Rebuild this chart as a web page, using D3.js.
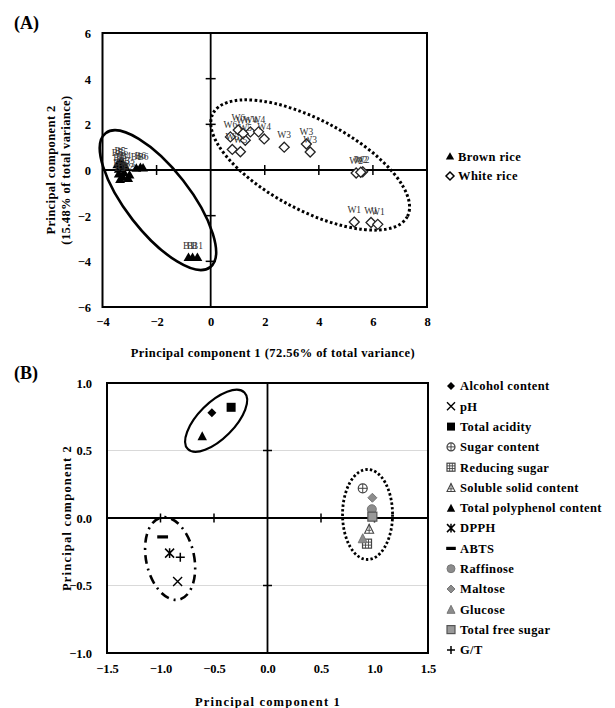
<!DOCTYPE html>
<html>
<head>
<meta charset="utf-8">
<script src="https://cdn.jsdelivr.net/npm/d3@7"></script>
<style>
  html, body { margin: 0; padding: 0; background: #fff; }
  svg { display: block; }
  text { font-family: "Liberation Serif", "Times New Roman", serif; }
</style>
</head>
<body>
<svg id="chart" width="615" height="708"></svg>
<script>
// ---------- Panel A: PCA scores ----------
const brownX = [-0.82, -0.67, -0.49, -3.35, -3.25, -3.05, -3.40, -3.20, -3.00, -3.30, -3.15, -3.40, -3.35, -3.25, -3.45, -2.75, -2.60, -2.50];
const brownY = [-3.86, -3.86, -3.86, -0.45, -0.35, -0.40, -0.20, -0.15, -0.25, 0.05, 0.10, 0.00, 0.30, 0.25, 0.20, 0.05, 0.08, 0.06];
const brownLabels = ["B1", "B1", "B1", "B2", "B2", "B2", "B3", "B3", "B3", "B4", "B4", "B4", "B5", "B5", "B5", "B6", "B6", "B6"];

const whiteX = [5.31, 5.93, 6.18, 5.38, 5.62, 5.55, 2.72, 3.54, 3.68, 1.47, 1.77, 1.98, 0.80, 1.10, 1.28, 0.73, 1.02, 1.20];
const whiteY = [-2.28, -2.30, -2.38, -0.13, -0.08, -0.10, 1.00, 1.14, 0.79, 1.67, 1.67, 1.36, 0.90, 0.80, 1.30, 1.45, 1.75, 1.60];
const whiteLabels = ["W1", "W1", "W1", "W2", "W2", "W2", "W3", "W3", "W3", "W4", "W4", "W4", "W5", "W5", "W5", "W6", "W6", "W6"];

const groupNamesA = ["Brown rice", "White rice"];
const xTicksA = [-4, -2, 0, 2, 4, 6, 8];
const yTicksA = [-6, -4, -2, 0, 2, 4, 6];

// group outlines: centre in score units
const outlineCentersAX = [-1.95, 3.68];
const outlineCentersAY = [-1.32, 0.22];

// ---------- Panel B: PCA loadings ----------
const varNames = ["Alcohol content", "pH", "Total acidity", "Sugar content", "Reducing sugar",
  "Soluble solid content", "Total polyphenol content", "DPPH", "ABTS", "Raffinose",
  "Maltose", "Glucose", "Total free sugar", "G/T"];
const varX = [-0.52, -0.84, -0.34, 0.89, 0.93, 0.95, -0.61, -0.915, -0.98, 0.975, 0.98, 0.89, 0.98, -0.815];
const varY = [0.78, -0.47, 0.82, 0.22, -0.19, -0.08, 0.61, -0.26, -0.14, 0.065, 0.15, -0.15, 0.01, -0.29];
const xTicksB = [-1.5, -1.0, -0.5, 0.0, 0.5, 1.0, 1.5];
const yTicksB = [-1.0, -0.5, 0.0, 0.5, 1.0];

const outlineCentersBX = [-0.48, 0.935, -0.91];
const outlineCentersBY = [0.72, 0.026, -0.30];

// ---------- drawing ----------
const svg = d3.select("#chart");
const fmt1 = d3.format(".1f");

function frame(g, x, y) {
  const [x0, x1] = x.range(), [y0, y1] = y.range();
  g.append("rect")
    .attr("x", x0).attr("y", y1).attr("width", x1 - x0).attr("height", y0 - y1)
    .attr("fill", "none").attr("stroke", "#000").attr("stroke-width", 2);
}

// zero lines with small crossing tick marks
function zeroAxes(g, x, y, xt, yt, tick) {
  const [x0, x1] = x.range(), [y0, y1] = y.range();
  g.append("line").attr("x1", x0).attr("x2", x1).attr("y1", y(0)).attr("y2", y(0))
    .attr("stroke", "#000").attr("stroke-width", 1.8);
  g.append("line").attr("x1", x(0)).attr("x2", x(0)).attr("y1", y0).attr("y2", y1)
    .attr("stroke", "#000").attr("stroke-width", 1.8);
  g.selectAll(null).data(xt.filter(v => v !== 0 && v !== x.domain()[0] && v !== x.domain()[1]))
    .join("line")
    .attr("x1", d => x(d)).attr("x2", d => x(d))
    .attr("y1", y(0) - tick).attr("y2", y(0) + tick)
    .attr("stroke", "#000").attr("stroke-width", 1.5);
  g.selectAll(null).data(yt.filter(v => v !== 0 && v !== y.domain()[0] && v !== y.domain()[1]))
    .join("line")
    .attr("y1", d => y(d)).attr("y2", d => y(d))
    .attr("x1", x(0) - tick).attr("x2", x(0) + tick)
    .attr("stroke", "#000").attr("stroke-width", 1.5);
}

function tickLabels(g, x, y, xt, yt, f, xLabY, yLabX) {
  const ax = g.append("g").attr("transform", `translate(0,${xLabY})`)
    .call(d3.axisBottom(x).tickValues(xt).tickFormat(f).tickSize(0).tickPadding(0));
  const ay = g.append("g").attr("transform", `translate(${yLabX},0)`)
    .call(d3.axisLeft(y).tickValues(yt).tickFormat(f).tickSize(0).tickPadding(0));
  [ax, ay].forEach(a => {
    a.select(".domain").remove();
    a.selectAll("text").attr("font-family", "Liberation Serif, serif")
      .attr("font-size", 12.5).attr("font-weight", "bold").attr("fill", "#000");
  });
  ay.selectAll("text").attr("dy", "0.35em");
  ax.selectAll("text").attr("dy", "0.71em");
}

function outline(g, cx, cy, rx, ry, angle, dash, width) {
  g.append("ellipse")
    .attr("cx", cx).attr("cy", cy).attr("rx", rx).attr("ry", ry)
    .attr("transform", `rotate(${angle},${cx},${cy})`)
    .attr("fill", "none").attr("stroke", "#000").attr("stroke-width", width)
    .attr("stroke-dasharray", dash);
}

// ----- Panel A -----
const xA = d3.scaleLinear().domain([-4, 8]).range([102.5, 427]);
const yA = d3.scaleLinear().domain([-6, 6]).range([307, 33]);
const gA = svg.append("g");

frame(gA, xA, yA);
zeroAxes(gA, xA, yA, xTicksA, yTicksA, 5);
tickLabels(gA, xA, yA, xTicksA, yTicksA, d3.format("d"), 317, 91);

outline(gA, xA(outlineCentersAX[0]), yA(outlineCentersAY[0]), 85, 32, 52, null, 2.6);
outline(gA, xA(outlineCentersAX[1]), yA(outlineCentersAY[1]), 110, 45, 28, "2.6 2.4", 3);

const triA = d3.symbol().type(d3.symbolTriangle).size(42);
const diaA = "M0,-5L5,0L0,5L-5,0Z";

gA.selectAll(".wpt").data(d3.range(whiteX.length)).join("path")
  .attr("class", "wpt")
  .attr("transform", i => `translate(${xA(whiteX[i])},${yA(whiteY[i])})`)
  .attr("d", diaA).attr("fill", "#fff").attr("stroke", "#222").attr("stroke-width", 1.3);
gA.selectAll(".bpt").data(d3.range(brownX.length)).join("path")
  .attr("class", "bpt")
  .attr("transform", i => `translate(${xA(brownX[i])},${yA(brownY[i])})`)
  .attr("d", triA).attr("fill", "#000");

gA.selectAll(".wlab").data(d3.range(whiteX.length)).join("text")
  .attr("class", "wlab")
  .attr("x", i => xA(whiteX[i])).attr("y", i => yA(whiteY[i]) - 9)
  .attr("text-anchor", "middle").attr("font-size", 9.5).attr("fill", "#333")
  .text(i => whiteLabels[i]);
gA.selectAll(".blab").data(d3.range(brownX.length)).join("text")
  .attr("class", "blab")
  .attr("x", i => xA(brownX[i])).attr("y", i => yA(brownY[i]) - 9)
  .attr("text-anchor", "middle").attr("font-size", 9.5).attr("fill", "#333")
  .text(i => brownLabels[i]);

// legend A
const legA = svg.append("g");
const legAY = [157, 176];
legA.append("path").attr("transform", `translate(450,${legAY[0]})`)
  .attr("d", d3.symbol().type(d3.symbolTriangle).size(30)).attr("fill", "#000");
legA.append("path").attr("transform", `translate(450,${legAY[1]})`)
  .attr("d", "M0,-4L4,0L0,4L-4,0Z").attr("fill", "#fff").attr("stroke", "#000").attr("stroke-width", 1.5);
legA.selectAll("text").data(groupNamesA).join("text")
  .attr("x", 458).attr("y", (d, i) => legAY[i]).attr("dy", "0.35em")
  .attr("font-size", 12.5).attr("font-weight", "bold").attr("letter-spacing", 0.4)
  .text(d => d);

// titles A
svg.append("text").attr("x", 14).attr("y", 29).attr("font-size", 18).attr("font-weight", "bold").text("(A)");
svg.append("text").attr("x", 273).attr("y", 357).attr("text-anchor", "middle")
  .attr("font-size", 12.5).attr("font-weight", "bold").attr("letter-spacing", 0.45)
  .text("Principal  component  1 (72.56%  of total variance)");
const ytA = svg.append("g").attr("transform", "translate(55,170) rotate(-90)");
ytA.append("text").attr("x", 0).attr("y", 0).attr("text-anchor", "middle")
  .attr("font-size", 12.5).attr("font-weight", "bold").attr("letter-spacing", 0.4)
  .text("Principal  component  2");
ytA.append("text").attr("x", 0).attr("y", 15).attr("text-anchor", "middle")
  .attr("font-size", 12.5).attr("font-weight", "bold").attr("letter-spacing", 0.4)
  .text("(15.48% of total variance)");

// ----- Panel B -----
const xB = d3.scaleLinear().domain([-1.5, 1.5]).range([107, 428]);
const yB = d3.scaleLinear().domain([-1, 1]).range([653, 383]);
const gB = svg.append("g");

gB.selectAll(".grid").data([-0.5, 0.5]).join("line")
  .attr("class", "grid")
  .attr("x1", xB.range()[0]).attr("x2", xB.range()[1])
  .attr("y1", d => yB(d)).attr("y2", d => yB(d))
  .attr("stroke", "#d9d9d9").attr("stroke-width", 1);
frame(gB, xB, yB);
zeroAxes(gB, xB, yB, xTicksB, yTicksB, 4.5);
tickLabels(gB, xB, yB, xTicksB, yTicksB, fmt1, 664, 92);

outline(gB, xB(outlineCentersBX[0]), yB(outlineCentersBY[0]), 40, 18, -45, null, 2.2);
outline(gB, xB(outlineCentersBX[1]), yB(outlineCentersBY[1]), 25, 45, 0, "2.4 2.2", 2.8);
outline(gB, xB(outlineCentersBX[2]), yB(outlineCentersBY[2]), 24, 42, -12, "9 5 2 5", 2.6);

// one marker style per variable
function marker(g, name, s) {
  const k = s;                       // half size
  const dark = "#444", gray = "#8c8c8c";
  switch (name) {
    case "Alcohol content":
      g.append("path").attr("d", `M0,${-k}L${k},0L0,${k}L${-k},0Z`).attr("fill", "#000"); break;
    case "pH":
      g.append("path").attr("d", `M${-k},${-k}L${k},${k}M${k},${-k}L${-k},${k}`)
        .attr("stroke", "#000").attr("stroke-width", 1.4); break;
    case "Total acidity":
      g.append("rect").attr("x", -k).attr("y", -k).attr("width", 2 * k).attr("height", 2 * k).attr("fill", "#000"); break;
    case "Sugar content":
      g.append("circle").attr("r", k).attr("fill", "#fff").attr("stroke", dark).attr("stroke-width", 1.2);
      g.append("path").attr("d", `M${-k},0L${k},0M0,${-k}L0,${k}`).attr("stroke", dark).attr("stroke-width", 1); break;
    case "Reducing sugar":
      g.append("rect").attr("x", -k).attr("y", -k).attr("width", 2 * k).attr("height", 2 * k)
        .attr("fill", "#fff").attr("stroke", dark).attr("stroke-width", 1.2);
      g.append("path").attr("d", `M${-k},${-k / 3}L${k},${-k / 3}M${-k},${k / 3}L${k},${k / 3}M${-k / 3},${-k}L${-k / 3},${k}M${k / 3},${-k}L${k / 3},${k}`)
        .attr("stroke", dark).attr("stroke-width", 0.9); break;
    case "Soluble solid content":
      g.append("path").attr("d", `M0,${-k}L${k},${k}L${-k},${k}Z`)
        .attr("fill", "#fff").attr("stroke", dark).attr("stroke-width", 1.1);
      g.append("path").attr("d", `M${-k / 2},${k / 3}L${k / 2},${k / 3}M0,${-k}L0,${k}`)
        .attr("stroke", dark).attr("stroke-width", 0.9); break;
    case "Total polyphenol content":
      g.append("path").attr("d", `M0,${-k}L${k * 1.05},${k}L${-k * 1.05},${k}Z`).attr("fill", "#000"); break;
    case "DPPH":
      g.append("path").attr("d", `M${-k},${-k}L${k},${k}M${k},${-k}L${-k},${k}M0,${-k * 1.1}L0,${k * 1.1}`)
        .attr("stroke", "#000").attr("stroke-width", 1.5); break;
    case "ABTS":
      g.append("rect").attr("x", -k * 1.2).attr("y", -1.6).attr("width", 2.4 * k).attr("height", 3.2).attr("fill", "#000"); break;
    case "Raffinose":
      g.append("circle").attr("r", k).attr("fill", gray).attr("stroke", "#777").attr("stroke-width", 1); break;
    case "Maltose":
      g.append("path").attr("d", `M0,${-k}L${k},0L0,${k}L${-k},0Z`).attr("fill", gray).attr("stroke", "#777"); break;
    case "Glucose":
      g.append("path").attr("d", `M0,${-k}L${k},${k}L${-k},${k}Z`).attr("fill", gray).attr("stroke", "#777"); break;
    case "Total free sugar":
      g.append("rect").attr("x", -k).attr("y", -k).attr("width", 2 * k).attr("height", 2 * k)
        .attr("fill", "#999").attr("stroke", "#555").attr("stroke-width", 1.2); break;
    case "G/T":
      g.append("path").attr("d", `M${-k},0L${k},0M0,${-k}L0,${k}`)
        .attr("stroke", "#000").attr("stroke-width", 1.5); break;
  }
}

d3.range(varNames.length).forEach(i => {
  const g = gB.append("g").attr("transform", `translate(${xB(varX[i])},${yB(varY[i])})`);
  marker(g, varNames[i], 4.5);
});

// legend B
const legB = svg.append("g");
varNames.forEach((name, i) => {
  const y = 386 + i * 20.3;
  const g = legB.append("g").attr("transform", `translate(451,${y})`);
  marker(g, name, 4);
  legB.append("text").attr("x", 460).attr("y", y).attr("dy", "0.35em")
    .attr("font-size", 12.5).attr("font-weight", "bold").attr("letter-spacing", 0.4)
    .text(name);
});

// titles B
svg.append("text").attr("x", 14).attr("y", 379).attr("font-size", 18).attr("font-weight", "bold").text("(B)");
svg.append("text").attr("x", 268).attr("y", 706).attr("text-anchor", "middle")
  .attr("font-size", 12.5).attr("font-weight", "bold").attr("letter-spacing", 1.2)
  .text("Principal component 1");
svg.append("text").attr("transform", "translate(71,518) rotate(-90)").attr("text-anchor", "middle")
  .attr("font-size", 12.5).attr("font-weight", "bold").attr("letter-spacing", 1.2)
  .text("Principal component 2");
</script>
</body>
</html>
